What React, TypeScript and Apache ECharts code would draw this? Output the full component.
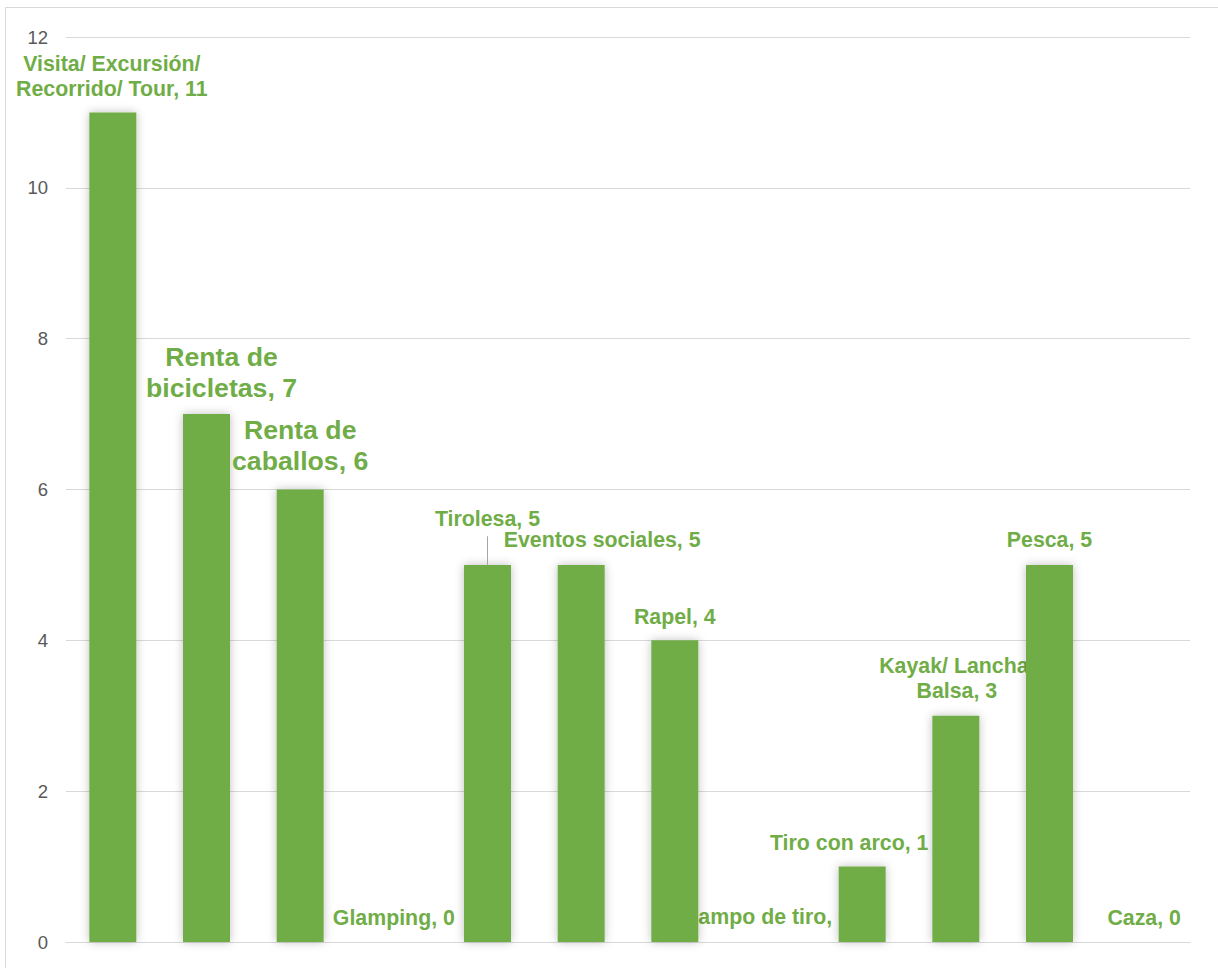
import React, { useEffect, useRef } from "react";
import * as echarts from "echarts";

const categories = [
  "Visita/ Excursión/ Recorrido/ Tour",
  "Renta de bicicletas",
  "Renta de caballos",
  "Glamping",
  "Tirolesa",
  "Eventos sociales",
  "Rapel",
  "Campo de tiro",
  "Tiro con arco",
  "Kayak/ Lancha/ Balsa",
  "Pesca",
  "Caza",
];
const values = [11, 7, 6, 0, 5, 5, 4, 0, 1, 3, 5, 0];
const labelNames = [
  "Visita/ Excursión/\nRecorrido/ Tour",
  "Renta de\nbicicletas",
  "Renta de\ncaballos",
  "Glamping",
  "Tirolesa",
  "Eventos sociales",
  "Rapel",
  "Campo de tiro",
  "Tiro con arco",
  "Kayak/ Lancha/\nBalsa",
  "Pesca",
  "Caza",
];
const yMin = 0;
const yMax = 12;
const yStep = 2;

// label placement (style only)
const labelOffsets: [number, number][] = [
  [-1, -11], [15, -11], [0, -13.5], [0, -12], [0, -33], [21, -12],
  [0, -11], [-2, -12], [-13, -10.6], [1, -11.7], [0, -12], [1, -12],
];
const bigLabel = [false, true, true, false, false, false, false, false, false, false, false, false];
const behindBars = [false, false, false, false, false, false, false, true, false, true, false, false];

const GREEN = "#70AD47";
const FONT = "'Liberation Sans', Arial, sans-serif";

function labelFor(i: number) {
  const big = bigLabel[i];
  return {
    show: true,
    position: "top",
    distance: 0,
    offset: labelOffsets[i],
    color: GREEN,
    opacity: 1,
    fontFamily: FONT,
    fontWeight: "bold",
    fontSize: big ? 26.67 : 21.33,
    lineHeight: big ? 31 : 25,
    formatter: `${labelNames[i]}, ${values[i]}`,
  };
}

export default function App() {
  const ref = useRef<HTMLDivElement>(null);
  useEffect(() => {
    if (!ref.current) return;
    const chart = echarts.init(ref.current, null, { renderer: "svg" });
    const barData = values.map((v, i) => ({
      value: v,
      label: behindBars[i] ? { show: false } : labelFor(i),
    }));
    const hiddenData = values.map((v, i) =>
      behindBars[i] ? { value: v, label: labelFor(i) } : "-"
    );
    chart.setOption({
      animation: false,
      backgroundColor: "#FFFFFF",
      graphic: [
        {
          type: "rect",
          shape: { x: 5.5, y: 7.5, width: 1240, height: 990 },
          style: { fill: "none", stroke: "#D9D9D9", lineWidth: 1 },
          silent: true,
        },
      ],
      grid: { left: 66, right: 28, top: 37, bottom: 26 },
      xAxis: {
        type: "category",
        data: categories,
        axisLine: { show: true, lineStyle: { color: "#D9D9D9", width: 1 } },
        axisTick: { show: false },
        axisLabel: { show: false },
      },
      yAxis: {
        type: "value",
        min: yMin,
        max: yMax,
        interval: yStep,
        axisLine: { show: false },
        axisTick: { show: false },
        axisLabel: {
          color: "#595959",
          fontFamily: FONT,
          fontSize: 18.5,
          margin: 18,
        },
        splitLine: { lineStyle: { color: "#D9D9D9", width: 1 } },
      },
      series: [
        {
          type: "scatter",
          z: 1,
          symbolSize: 1,
          itemStyle: { color: "rgba(0,0,0,0)", opacity: 1 },
          data: hiddenData,
          silent: true,
        },
        {
          type: "bar",
          z: 2,
          barWidth: 47,
          data: barData,
          itemStyle: {
            color: GREEN,
            shadowBlur: 10,
            shadowColor: "rgba(0,0,0,0.25)",
            shadowOffsetX: 0,
            shadowOffsetY: 0,
          },
          markLine: {
            silent: true,
            symbol: ["none", "none"],
            label: { show: false },
            lineStyle: { color: "#A6A6A6", width: 1, type: "solid" },
            data: [[{ coord: [4, values[4]] }, { coord: [4, 5.38] }]],
          },
        },
      ],
    });
    return () => chart.dispose();
  }, []);
  return (
    <div
      ref={ref}
      style={{ position: "absolute", left: 0, top: 0, width: 1218, height: 968 }}
    />
  );
}
